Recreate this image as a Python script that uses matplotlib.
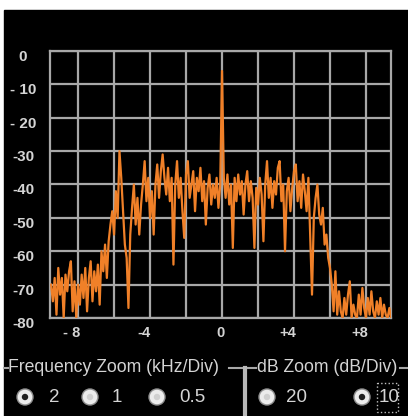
import matplotlib.pyplot as plt
import matplotlib.transforms as mtransforms
from matplotlib.patches import Circle, Rectangle

# spectrum trace (kHz offset, dB)
freq_khz = [
    -9.5, -9.4, -9.3, -9.2, -9.1, -9.0, -8.9, -8.8, -8.7, -8.6,
    -8.5, -8.4, -8.3, -8.2, -8.1, -8.0, -7.9, -7.8, -7.7, -7.6,
    -7.5, -7.4, -7.3, -7.2, -7.1, -7.0, -6.9, -6.8, -6.7, -6.6,
    -6.5, -6.4, -6.3, -6.2, -6.1, -6.0, -5.9, -5.8, -5.7, -5.6,
    -5.5, -5.4, -5.3, -5.2, -5.1, -5.0, -4.9, -4.8, -4.7, -4.6,
    -4.5, -4.4, -4.3, -4.2, -4.1, -4.0, -3.9, -3.8, -3.7, -3.6,
    -3.5, -3.4, -3.3, -3.2, -3.1, -3.0, -2.9, -2.8, -2.7, -2.6,
    -2.5, -2.4, -2.3, -2.2, -2.1, -2.0, -1.9, -1.8, -1.7, -1.6,
    -1.5, -1.4, -1.3, -1.2, -1.1, -1.0, -0.9, -0.8, -0.7, -0.6,
    -0.5, -0.4, -0.3, -0.2, -0.1, 0.0, 0.1, 0.2, 0.3, 0.4,
    0.5, 0.6, 0.7, 0.8, 0.9, 1.0, 1.1, 1.2, 1.3, 1.4,
    1.5, 1.6, 1.7, 1.8, 1.9, 2.0, 2.1, 2.2, 2.3, 2.4,
    2.5, 2.6, 2.7, 2.8, 2.9, 3.0, 3.1, 3.2, 3.3, 3.4,
    3.5, 3.6, 3.7, 3.8, 3.9, 4.0, 4.1, 4.2, 4.3, 4.4,
    4.5, 4.6, 4.7, 4.8, 4.9, 5.0, 5.1, 5.2, 5.3, 5.4,
    5.5, 5.6, 5.7, 5.8, 5.9, 6.0, 6.1, 6.2, 6.3, 6.4,
    6.5, 6.6, 6.7, 6.8, 6.9, 7.0, 7.1, 7.2, 7.3, 7.4,
    7.5, 7.6, 7.7, 7.8, 7.9, 8.0, 8.1, 8.2, 8.3, 8.4,
    8.5, 8.6, 8.7, 8.8, 8.9, 9.0, 9.1, 9.2, 9.3, 9.4,
]
level_db = [
    -70, -75, -68, -79, -65, -73, -68, -80, -67, -72,
    -66, -63, -78, -69, -80, -70, -76, -67, -74, -65,
    -78, -68, -63, -75, -66, -72, -64, -76, -60, -66,
    -58, -68, -57, -52, -48, -55, -42, -50, -30, -38,
    -48, -58, -62, -77, -55, -47, -40, -52, -44, -55,
    -46, -40, -33, -45, -38, -50, -42, -55, -40, -34,
    -44, -36, -31, -38, -43, -35, -45, -38, -64, -40,
    -33, -44, -38, -48, -56, -37, -33, -44, -40, -36,
    -48, -38, -42, -35, -45, -39, -52, -41, -37, -46,
    -40, -44, -38, -47, -40, -6, -38, -44, -37, -46,
    -40, -59, -38, -45, -37, -43, -39, -49, -40, -36,
    -45, -39, -44, -59, -41, -46, -38, -43, -57, -40,
    -33, -44, -38, -47, -39, -43, -35, -33, -45, -40,
    -60, -42, -38, -48, -41, -36, -34, -45, -39, -47,
    -37, -42, -48, -38, -55, -73, -50, -44, -40, -49,
    -52, -47, -58, -55, -62, -65, -70, -78, -66, -79,
    -72, -78, -80, -74, -79, -73, -69, -80, -76, -79,
    -80, -73, -79, -71, -77, -80, -74, -79, -72, -78,
    -80, -75, -79, -74, -80, -76, -79, -80, -77, -80,
]

db_ticks = [0, -10, -20, -30, -40, -50, -60, -70, -80]
db_labels = ["0", "- 10", "- 20", "-30", "-40", "-50", "-60", "-70", "-80"]
freq_grid = [-8, -6, -4, -2, 0, 2, 4, 6, 8]
freq_ticks = [-8, -4, 0, 4, 8]
freq_labels = ["- 8", "-4", "0", "+4", "+8"]
freq_zoom_opts = ["2", "1", "0.5"]
db_zoom_opts = ["20", "10"]

W, H = 408, 416
GRID = "#a8a8a8"
TXT = "#d4d4d4"
ORANGE = "#f08028"
plt.rcParams["font.family"] = ["Liberation Sans", "DejaVu Sans"]

fig = plt.figure(figsize=(W / 100, H / 100), dpi=100)
fig.patch.set_facecolor("white")

# full-figure layer in pixel units for the panel and the controls
bg = fig.add_axes([0, 0, 1, 1])
bg.set_xlim(0, W)
bg.set_ylim(H, 0)
bg.axis("off")
bg.add_patch(Rectangle((4, 10), W - 4, H - 10, color="black"))

# spectrum plot
ax = fig.add_axes([50 / W, (H - 318) / H, 341 / W, 267 / H])
ax.set_facecolor("black")
ax.set_xlim(-9.56, 9.39)
ax.set_ylim(-80, 0)
ax.set_xticks(freq_grid)
ax.set_yticks(db_ticks)
ax.grid(color=GRID, lw=1.6)
ax.tick_params(length=0, labelbottom=False, labelleft=False)
for sp in ax.spines.values():
    sp.set_color(GRID)
    sp.set_linewidth(1.6)
ax.plot(freq_khz, level_db, color=ORANGE, lw=1.6, zorder=3, clip_on=True)

for v, lab in zip(db_ticks, db_labels):
    tr = mtransforms.offset_copy(ax.get_yaxis_transform(), fig=fig, x=0, y=-6, units="dots")
    ax.text(-0.079, v, lab, transform=tr, ha="center", va="center",
            color=TXT, fontsize=11, fontweight="bold")

for f, lab in zip(freq_ticks, freq_labels):
    dx = -2 if f == 0 else -6
    tr = mtransforms.offset_copy(ax.get_xaxis_transform(), fig=fig, x=dx, y=-15, units="dots")
    ax.text(f, 0, lab, transform=tr, ha="center", va="center",
            color=TXT, fontsize=10.5, fontweight="bold")

# group boxes
line_y = 368
for x0, x1 in [(4, 8), (229, 243), (247, 256), (400, 408)]:
    bg.plot([x0, x1], [line_y, line_y], color=GRID, lw=1.5)
bg.plot([245, 245], [line_y, H], color="#b8b8b8", lw=3)
bg.text(8, line_y, "Frequency Zoom (kHz/Div)", color=TXT, fontsize=12.7,
        ha="left", va="center")
bg.text(257, line_y, "dB Zoom (dB/Div)", color=TXT, fontsize=12.7,
        ha="left", va="center")

# radio buttons
radio_y = 397
radios = [(25, 49, freq_zoom_opts[0], True), (90, 112, freq_zoom_opts[1], False),
          (157, 179, freq_zoom_opts[2], False), (267, 286, db_zoom_opts[0], False),
          (362, 379, db_zoom_opts[1], True)]
for cx, tx, lab, sel in radios:
    bg.add_patch(Circle((cx, radio_y), 8, fc="#ececec", ec="#909090", lw=1))
    if sel:
        bg.add_patch(Circle((cx, radio_y), 3.2, fc="#202020", ec="none"))
    else:
        bg.add_patch(Circle((cx, radio_y), 3.2, fc="#d0d0d0", ec="none"))
    bg.text(tx, radio_y, lab, color=TXT, fontsize=13.5, ha="left", va="center")

bg.add_patch(Rectangle((377, 383), 21, 29, fill=False, ec="#c0c0c0", lw=1, ls=":"))

fig.savefig("out.png", dpi=100, facecolor=fig.get_facecolor())
